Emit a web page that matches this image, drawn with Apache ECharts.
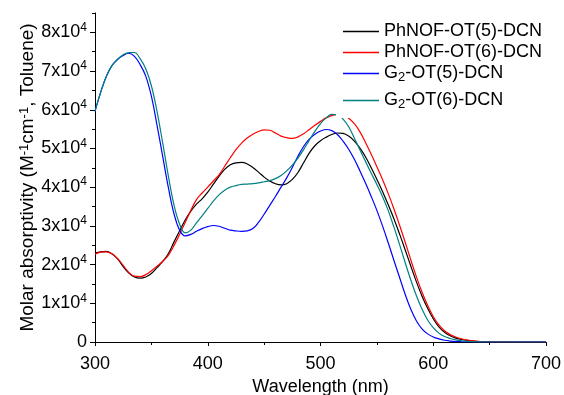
<!DOCTYPE html>
<html>
<head>
<meta charset="utf-8">
<script src="https://cdn.jsdelivr.net/npm/echarts@6/dist/echarts.min.js"></script>
<style>html,body{margin:0;padding:0;background:#fff}#c{width:564px;height:395px}</style>
</head>
<body>
<div id="c"></div>
<script>
const wavelengths = [300,305,310,315,320,325,330,335,340,345,350,355,360,365,370,375,380,385,390,395,400,405,410,415,420,425,430,435,440,445,450,455,460,465,470,475,480,485,490,495,500,505,510,515,520,525,530,535,540,545,550,555,560,565,570,575,580,585,590,595,600,605,610,615,620,625,630,635,640,645,650,675,700];

const seriesNames = ['PhNOF-OT(5)-DCN','PhNOF-OT(6)-DCN','G2-OT(5)-DCN','G2-OT(6)-DCN'];
const seriesColors = ['#000000','#ff0000','#0000ff','#008080'];

const phnofOT5 = [23000,23300,23400,22800,21500,19500,17800,16800,16500,16800,17700,19200,20800,22800,25800,28700,31500,33800,35600,37000,38700,40800,42800,44600,45800,46300,46400,46000,45100,43900,42600,41600,40900,40600,40900,42000,43800,46300,48800,50700,52000,52900,53600,54000,53900,53200,51900,50100,47800,45000,42000,38900,35500,31900,28000,23900,19700,15600,11900,8700,6000,3900,2500,1600,1000,650,400,250,130,60,20,0,0];
const phnofOT6 = [22700,23200,23300,22800,21600,19800,18000,17000,16900,17400,18400,19600,20800,22400,24900,27800,30900,34000,36800,38500,40000,41600,43200,45400,47600,49700,51400,52700,53700,54400,54800,54700,54000,53200,52800,52600,53000,53800,54900,56000,57000,57900,58500,58800,58600,57800,56400,54300,51500,48500,45300,42000,38400,34500,30300,25900,21300,16900,12900,9500,6600,4400,2900,1900,1300,850,520,320,180,100,50,0,0];
const g2OT5 = [59600,64500,68600,71400,73000,74000,74600,73800,71700,68700,63500,56000,48000,40000,33200,28900,27400,27800,28600,29300,29800,30100,29900,29400,28900,28700,28600,28700,29300,30900,33000,35300,37600,40000,42400,45100,48000,50500,52400,53700,54500,54900,54600,53600,51900,49800,47200,44200,41000,37600,34000,30000,25700,21200,16800,12400,8500,5500,3400,2100,1300,800,450,250,120,60,20,0,0,0,0,0,0];
const g2OT6 = [59600,64500,68600,71400,73100,74200,74800,74800,73200,70600,66200,59600,51500,43000,35500,30500,28200,28900,30800,32600,34500,36400,38000,39200,40000,40400,40700,40800,40900,41100,41400,41700,42200,43000,44200,45700,47500,49700,52100,54400,56400,57900,58800,58700,57600,55600,52700,49600,46600,43600,40700,37600,34000,29800,25300,20600,16100,12000,8500,5700,3700,2300,1400,900,550,330,190,100,50,20,0,0,0];

const yMajorTicks = [0,10000,20000,30000,40000,50000,60000,70000,80000];

const FONT = 'Liberation Sans, Arial, Helvetica, sans-serif';
const allValues = [phnofOT5, phnofOT6, g2OT5, g2OT6];

function pairs(vals){ return wavelengths.map((w,i)=>[w, vals[i]]); }

const legendRich = {
  m: {fontSize: 18, fontFamily: FONT, color: '#000', lineHeight: 21},
  s: {fontSize: 13, fontFamily: FONT, color: '#000', verticalAlign: 'bottom', lineHeight: 4}
};
function legendFmt(name){
  if (name.indexOf('G2') === 0) return '{m|G}{s|2}{m|' + name.slice(2) + '}';
  return '{m|' + name + '}';
}

const chart = echarts.init(document.getElementById('c'), null, {renderer: 'canvas'});
chart.setOption({
  animation: false,
  backgroundColor: '#ffffff',
  grid: {left: 95, right: 18, top: 13, bottom: 53, containLabel: false, outerBoundsMode: 'none'},
  legend: [
    {
      data: seriesNames.slice(0,3), orient: 'vertical', left: 336, top: 21,
      icon: 'rect', itemWidth: 36, itemHeight: 1.3, itemGap: 0, padding: [0,5,0,7],
      selectedMode: false, backgroundColor: '#ffffff',
      formatter: legendFmt, textStyle: {lineHeight: 21, rich: legendRich}
    },
    {
      data: seriesNames.slice(3), orient: 'vertical', left: 336, top: 88,
      icon: 'rect', itemWidth: 36, itemHeight: 1.3, itemGap: 0, padding: [2,5,7,7],
      selectedMode: false, backgroundColor: '#ffffff',
      formatter: legendFmt, textStyle: {lineHeight: 21, rich: legendRich}
    }
  ],
  xAxis: {
    type: 'value', min: 300, max: 700, interval: 100,
    name: 'Wavelength (nm)', nameLocation: 'middle', nameGap: 27,
    nameTextStyle: {fontSize: 18, fontFamily: FONT, color: '#000'},
    axisLine: {show: true, lineStyle: {color: '#000', width: 1}},
    axisTick: {show: true, length: 4, lineStyle: {color: '#000'}},
    minorTick: {show: true, splitNumber: 2, length: 3, lineStyle: {color: '#000'}},
    axisLabel: {fontSize: 18, fontFamily: FONT, color: '#000', margin: 13},
    splitLine: {show: false}
  },
  yAxis: [
    {
      type: 'value', min: 0, max: 85000, interval: 5000, position: 'left',
      axisLine: {show: true, lineStyle: {color: '#000', width: 1}},
      axisTick: {show: true, length: 3, lineStyle: {color: '#000'}},
      axisLabel: {show: false},
      splitLine: {show: false},
      name: 'Molar absorptivity (M{p|-1}cm{p|-1}, Toluene)',
      nameLocation: 'middle', nameGap: 58, nameRotate: 90,
      nameTextStyle: {
        fontSize: 19, fontFamily: FONT, color: '#000',
        rich: {
          p: {fontSize: 13, fontFamily: FONT, color: '#000', verticalAlign: 'top', lineHeight: 12}
        }
      }
    },
    {
      type: 'value', min: 0, max: 85000, interval: 10000, position: 'left',
      axisLine: {show: false},
      axisTick: {show: true, length: 5, lineStyle: {color: '#000'}, customValues: yMajorTicks},
      axisLabel: {
        show: true, margin: 8, customValues: yMajorTicks,
        formatter: function(v){
          if (v === 0) return '{m|0}';
          if (v % 10000 !== 0 || v > 80000) return '';
          return '{m|' + (v/10000) + 'x10}{p|4}';
        },
        rich: {
          m: {fontSize: 18, fontFamily: FONT, color: '#000', lineHeight: 22},
          p: {fontSize: 12, fontFamily: FONT, color: '#000', verticalAlign: 'top', lineHeight: 11}
        }
      },
      splitLine: {show: false}
    }
  ],
  series: seriesNames.map((n, i) => ({
    name: n, type: 'line', data: pairs(allValues[i]),
    showSymbol: false, symbol: 'none', smooth: 0.4,
    lineStyle: {color: seriesColors[i], width: 1.2},
    itemStyle: {color: seriesColors[i]},
    z: 2
  }))
});
</script>
</body>
</html>
